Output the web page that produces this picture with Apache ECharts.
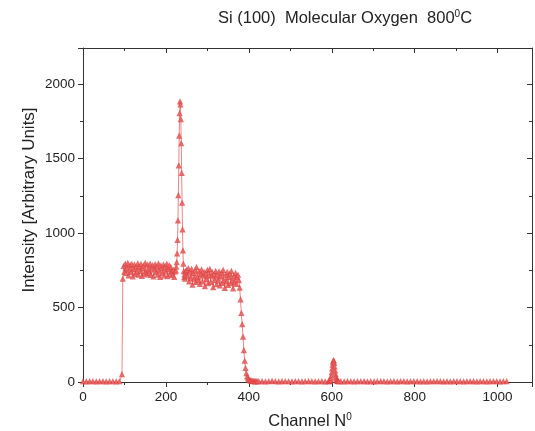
<!DOCTYPE html>
<html><head><meta charset="utf-8">
<script src="https://cdn.jsdelivr.net/npm/echarts@6/dist/echarts.min.js"></script>
<style>html,body{margin:0;padding:0;background:#fff}#c{width:535px;height:431px}</style>
</head><body><div id="c"></div>
<script>
// ---- data (channel, intensity) ----
const xTicks = [0, 200, 400, 600, 800, 1000];
const yTicks = [0, 500, 1000, 1500, 2000];

// baseline before the signal: channels 0..88, step 8
const baseLowStart = 0, baseLowStep = 8;
const baseLow = [1,0,2,1,0,1,2,0,1,1,0,2];

// first plateau: channels 94..222, step 2
const plateauAStart = 94, plateauAStep = 2;
const plateauA = [48,690,775,735,790,728,760,795,712,750,
  782,735,788,705,756,785,722,770,738,792,
  716,774,742,788,708,760,779,725,795,740,
  718,784,752,730,790,715,765,781,704,752,
  787,733,772,716,793,745,702,778,760,728,
  786,712,770,738,790,706,755,780,720,768,
  742,715,748,702,738];

// Si surface peak: channels 224..248, step 1
const siPeakStart = 224, siPeakStep = 1;
const siPeak = [745,770,800,860,950,1080,1250,1450,1650,1800,1880,1860,1760,1600,1400,1200,1020,880,790,740,700,720,690,740,710];

// second plateau: channels 250..376, step 2
const plateauBStart = 250, plateauBStep = 2;
const plateauB = [748,705,760,672,738,695,755,650,728,690,
  745,668,768,702,680,740,655,722,752,672,
  712,735,640,726,686,748,660,715,756,668,
  710,734,632,722,682,742,652,712,676,738,
  645,706,730,662,748,680,628,716,672,735,
  648,702,724,660,742,678,625,710,668,728,
  655,700,716,680];

// falling edge: channels 378..420, step 2
const edgeStart = 378, edgeStep = 2;
const edge = [630,550,460,385,300,210,140,90,55,34,22,15,10,7,5,4,3,2,2,1,1,1];

// baseline between: channels 424..592, step 8
const baseMidStart = 424, baseMidStep = 8;
const baseMid = [1,2,0,1,3,1,0,2,1,1,0,2,1,0,1,2,1,0,1,2,0,1];

// oxygen peak: channels 593..617, step 1
const oPeakStart = 593, oPeakStep = 1;
const oPeak = [2,3,5,8,14,24,40,62,88,112,132,143,140,125,100,74,50,32,20,12,7,4,3,2,1];

// baseline after: channels 622..1022, step 8
const baseHighStart = 622, baseHighStep = 8;
const baseHigh = [1,0,2,1,0,1,1,2,0,1,0,1,2,1,0,1,1,0,2,1,
  0,1,1,2,0,1,0,1,1,2,1,0,1,0,2,1,1,0,1,1,
  2,0,1,1,0,1,2,1,0,1,1];

function seg(start, step, vals){ return vals.map((v,i)=>[start+i*step, v]); }
const points = [].concat(
  seg(baseLowStart, baseLowStep, baseLow),
  seg(plateauAStart, plateauAStep, plateauA),
  seg(siPeakStart, siPeakStep, siPeak),
  seg(plateauBStart, plateauBStep, plateauB),
  seg(edgeStart, edgeStep, edge),
  seg(baseMidStart, baseMidStep, baseMid),
  seg(oPeakStart, oPeakStep, oPeak),
  seg(baseHighStart, baseHighStep, baseHigh)
).sort((a,b)=>a[0]-b[0]);

const chart = echarts.init(document.getElementById('c'), null, {renderer:'canvas'});
const axisCol = '#333';
const FONT = 'Liberation Sans, Arial, sans-serif';
const fmt = v => String(v);
function xAx(pos, inside, labels){
  return {type:'value', position:pos, min:0, max:1083, interval:200,
    axisLine:{show:true, onZero:false, lineStyle:{color:axisCol, width:1}},
    axisTick:{show:true, inside:inside, length:5, lineStyle:{color:axisCol}},
    minorTick:{show:true, splitNumber:2, length:3, lineStyle:{color:axisCol}},
    splitLine:{show:false},
    axisLabel:{show:labels, showMaxLabel:false, formatter:fmt, fontSize:13.5, color:'#222', margin:8, fontFamily:FONT}};
}
function yAx(pos, inside, labels){
  return {type:'value', position:pos, min:0, max:2242, interval:500,
    axisLine:{show:true, onZero:false, lineStyle:{color:axisCol, width:1}},
    axisTick:{show:true, inside:inside, length:5, lineStyle:{color:axisCol}},
    minorTick:{show:true, splitNumber:2, length:3, lineStyle:{color:axisCol}},
    splitLine:{show:false},
    axisLabel:{show:labels, showMaxLabel:false, formatter:fmt, fontSize:13.5, color:'#222', margin:8, fontFamily:FONT}};
}
chart.setOption({
  animation:false,
  backgroundColor:'#fff',
  grid:{left:83, top:48, right:3, bottom:49, containLabel:false},
  xAxis:[xAx('bottom', false, true), xAx('top', true, false)],
  yAxis:[yAx('left', false, true), yAx('right', true, false)],
  series:[{
    type:'line', xAxisIndex:0, yAxisIndex:0, data:points,
    symbol:'emptyTriangle', symbolSize:3, showSymbol:true,
    lineStyle:{color:'rgba(230,80,80,0.7)', width:1},
    itemStyle:{color:'rgba(225,70,70,0.8)', borderColor:'rgba(225,70,70,0.8)', borderWidth:0.6},
    emphasis:{disabled:true}
  }],
  graphic:[
    {type:'text', left:218, top:9, style:{
      text:'Si (100)  Molecular Oxygen  800{s|0}C',
      font:'16.5px '+FONT, fill:'#222',
      rich:{s:{fontSize:10, verticalAlign:'top', padding:[0,0,8,0], fill:'#222', fontFamily:FONT}}
    }},
    {type:'text', x:29, y:200, rotation:Math.PI/2, style:{
      text:'Intensity [Arbitrary Units]', font:'17px '+FONT, fill:'#222',
      align:'center', verticalAlign:'middle'
    }},
    {type:'text', x:310, y:421, style:{
      text:'Channel N{s|0}', font:'16.5px '+FONT, fill:'#222',
      align:'center', verticalAlign:'middle',
      rich:{s:{fontSize:10, verticalAlign:'top', padding:[0,0,8,0], fill:'#222', fontFamily:FONT}}
    }}
  ]
});
</script>
</body></html>
